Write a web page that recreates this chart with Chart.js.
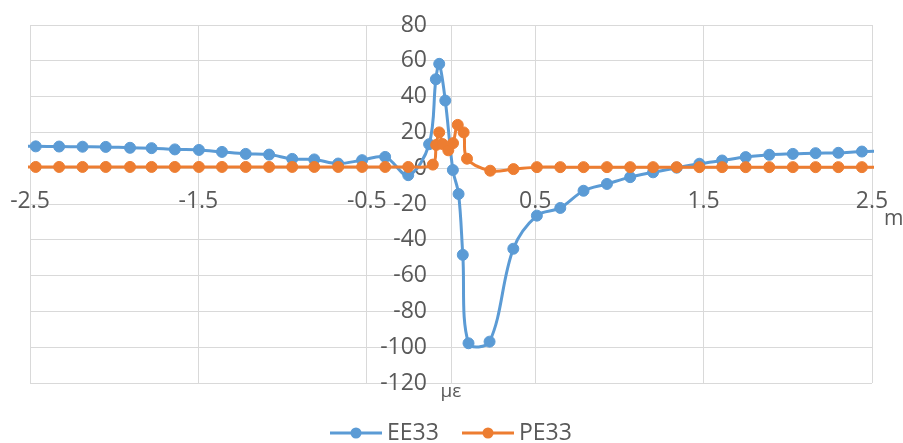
<!DOCTYPE html>
<html>
<head>
<meta charset="utf-8">
<script src="https://cdn.jsdelivr.net/npm/chart.js@4.4.1/dist/chart.umd.min.js"></script>
<style>
    html, body { margin: 0; padding: 0; background: #fff; }
    #wrap { width: 903px; height: 443px; }
</style>
</head>
<body>
<div id="wrap"><canvas id="myChart"></canvas></div>
<script>
const seriesNames = ['EE33', 'PE33'];

const eeX = [-2.6, -2.466, -2.327, -2.188, -2.05, -1.906, -1.778, -1.64, -1.497, -1.36, -1.219, -1.08, -0.943, -0.812, -0.67, -0.528, -0.391, -0.254,
    -0.13, -0.09, -0.07, -0.034, 0.011, 0.045, 0.07, 0.104, 0.229, 0.37,
    0.51, 0.649, 0.787, 0.926, 1.064, 1.2, 1.34, 1.475, 1.61, 1.75, 1.89, 2.03, 2.165, 2.3, 2.44, 2.58];
const eeY = [12.3, 12.2, 12.1, 12, 11.9, 11.4, 11.2, 10.5, 10.2, 9.1, 8, 7.6, 5.2, 4.9, 2.6, 4.5, 6.3, -3.9,
    13.4, 49.7, 58.3, 37.8, -1, -14.4, -48.4, -97.8, -96.9, -45,
    -26.5, -22.2, -12.6, -8.8, -5, -2.3, 0.3, 2.5, 4.3, 6.2, 7.5, 8, 8.4, 8.6, 9.3, 9.6];

const peX = [-2.6, -2.466, -2.327, -2.188, -2.05, -1.906, -1.778, -1.64, -1.497, -1.36, -1.219, -1.08, -0.943, -0.812, -0.67, -0.528, -0.391, -0.254,
    -0.108, -0.088, -0.07, -0.05, -0.016, 0.012, 0.04, 0.075, 0.095, 0.233, 0.371,
    0.51, 0.649, 0.787, 0.926, 1.064, 1.2, 1.34, 1.475, 1.61, 1.75, 1.89, 2.03, 2.165, 2.3, 2.44, 2.58];
const peY = [0.7, 0.7, 0.7, 0.7, 0.7, 0.7, 0.7, 0.7, 0.7, 0.7, 0.7, 0.7, 0.7, 0.7, 0.7, 0.7, 0.7, 0.7,
    2, 13, 20, 13.5, 10, 14, 24.2, 20, 5.3, -1.4, -0.5,
    0.6, 0.6, 0.6, 0.6, 0.6, 0.6, 0.6, 0.6, 0.6, 0.6, 0.6, 0.6, 0.6, 0.6, 0.6, 0.6];

const xTicks = [-2.5, -1.5, -0.5, 0.5, 1.5, 2.5];
const yTicks = [80, 60, 40, 20, 0, -20, -40, -60, -80, -100, -120];
const xUnit = 'm';
const yUnit = 'με';

const blue = '#5B9BD5';
const orange = '#ED7D31';
const textColor = '#595959';
const gridColor = '#d9d9d9';
const fontFamily = '"Open Sans", "Liberation Sans", sans-serif';

function toPoints(xs, ys) {
    return xs.map((x, i) => ({ x: x, y: ys[i] }));
}

// labels sit on the crossing axes, like the spreadsheet chart
const axisLabels = {
    id: 'axisLabels',
    beforeDatasetsDraw(chart) {
        const ctx = chart.ctx;
        const xs = chart.scales.x;
        const ys = chart.scales.y;
        const x0 = xs.getPixelForValue(0);
        const y0 = ys.getPixelForValue(0);
        ctx.save();
        ctx.fillStyle = textColor;
        ctx.font = '23px ' + fontFamily;
        ctx.textAlign = 'right';
        ctx.textBaseline = 'middle';
        yTicks.forEach(v => ctx.fillText(String(v), x0 - 24, ys.getPixelForValue(v)));
        ctx.textAlign = 'center';
        xTicks.forEach(v => ctx.fillText(String(v), xs.getPixelForValue(v), y0 + 33));
        ctx.restore();
    },
    afterDraw(chart) {
        const ctx = chart.ctx;
        const area = chart.chartArea;
        const x0 = chart.scales.x.getPixelForValue(0);
        const y0 = chart.scales.y.getPixelForValue(0);
        ctx.save();
        ctx.fillStyle = textColor;
        ctx.font = '21px ' + fontFamily;
        ctx.textAlign = 'left';
        ctx.textBaseline = 'alphabetic';
        ctx.fillText(xUnit, area.right + 12, y0 + 57);
        ctx.font = '19px ' + fontFamily;
        ctx.textAlign = 'center';
        ctx.fillText(yUnit, x0, area.bottom + 14);

        // legend
        const colors = [blue, orange];
        const starts = [330, 462];
        const ly = 433;
        ctx.font = '23px ' + fontFamily;
        ctx.textAlign = 'left';
        ctx.textBaseline = 'middle';
        seriesNames.forEach((name, i) => {
            const sx = starts[i];
            ctx.strokeStyle = colors[i];
            ctx.lineWidth = 3;
            ctx.beginPath();
            ctx.moveTo(sx, ly);
            ctx.lineTo(sx + 52, ly);
            ctx.stroke();
            ctx.fillStyle = colors[i];
            ctx.beginPath();
            ctx.arc(sx + 26, ly, 5.5, 0, Math.PI * 2);
            ctx.fill();
            ctx.fillStyle = textColor;
            ctx.fillText(name, sx + 57, ly);
        });
        ctx.restore();
    }
};

function seriesStyle(color, order) {
    return {
        showLine: true,
        borderColor: color,
        backgroundColor: color,
        borderWidth: 3,
        pointRadius: 5.5,
        pointHoverRadius: 5.5,
        pointBorderWidth: 1,
        tension: 0.35,
        clip: 2,
        order: order
    };
}

const ctx = document.getElementById('myChart').getContext('2d');
new Chart(ctx, {
    type: 'scatter',
    data: {
        datasets: [
            Object.assign({ label: seriesNames[0], data: toPoints(eeX, eeY) }, seriesStyle(blue, 1)),
            Object.assign({ label: seriesNames[1], data: toPoints(peX, peY) }, seriesStyle(orange, 0))
        ]
    },
    options: {
        responsive: true,
        maintainAspectRatio: false,
        animation: false,
        layout: { padding: { left: 30, top: 25, right: 31, bottom: 60 } },
        plugins: {
            legend: { display: false },
            tooltip: { enabled: false }
        },
        scales: {
            x: {
                type: 'linear',
                min: -2.5,
                max: 2.5,
                afterBuildTicks: scale => {
                    scale.ticks = xTicks.concat([0]).sort((a, b) => a - b).map(v => ({ value: v }));
                },
                ticks: { display: false },
                grid: { color: gridColor, lineWidth: 1, drawTicks: false },
                border: { display: false }
            },
            y: {
                type: 'linear',
                min: -120,
                max: 80,
                afterBuildTicks: scale => {
                    scale.ticks = yTicks.map(v => ({ value: v }));
                },
                ticks: { display: false },
                grid: { color: gridColor, lineWidth: 1, drawTicks: false },
                border: { display: false }
            }
        }
    },
    plugins: [axisLabels]
});
</script>
</body>
</html>
